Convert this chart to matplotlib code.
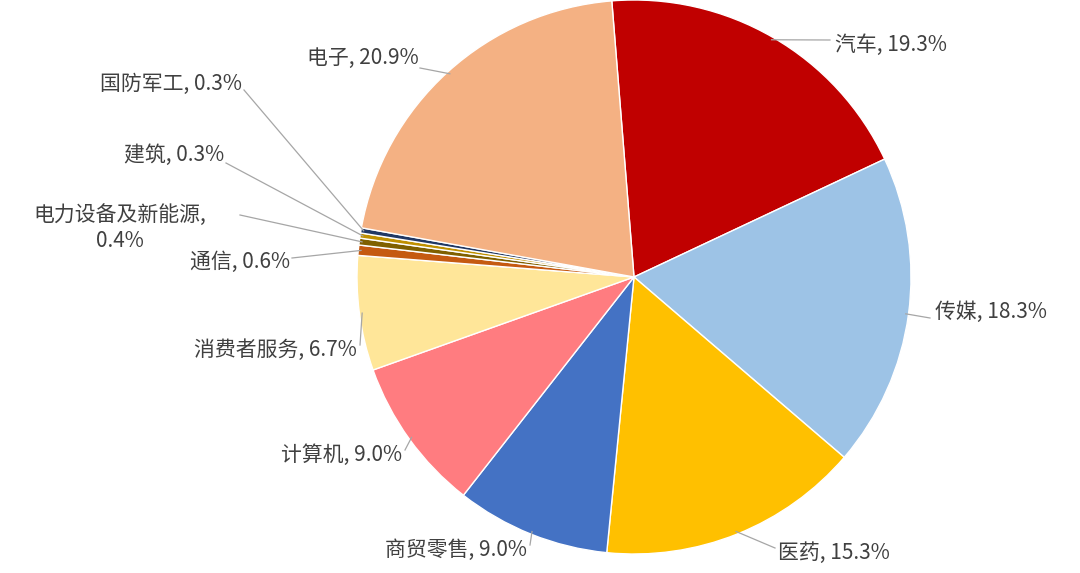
import matplotlib
matplotlib.use("Agg")
import matplotlib.pyplot as plt
import numpy as np

plt.rcParams['font.family'] = ['Noto Sans CJK SC', 'DejaVu Sans']

categories = ["汽车", "传媒", "医药", "商贸零售", "计算机", "消费者服务", "通信",
              "电力设备及新能源", "建筑", "国防军工", "电子"]
values = [19.3, 18.3, 15.3, 9.0, 9.0, 6.7, 0.6, 0.4, 0.3, 0.3, 20.9]
colors = ["#C00000", "#9DC3E6", "#FFC000", "#4472C4", "#FF7C80", "#FFE699",
          "#C55A11", "#7F6000", "#BF9000", "#203864", "#F4B183"]
label_texts = ["汽车, 19.3%", "传媒, 18.3%", "医药, 15.3%", "商贸零售, 9.0%", "计算机, 9.0%",
               "消费者服务, 6.7%", "通信, 0.6%", "电力设备及新能源,\n0.4%", "建筑, 0.3%",
               "国防军工, 0.3%", "电子, 20.9%"]
# label anchor pixels (x, y, ha)
label_pos = [(835, 45, 'left'), (935, 312, 'left'), (778, 553, 'left'), (527, 550, 'right'),
             (402, 455, 'right'), (357, 350, 'right'), (290, 262, 'right'), (120, 228, 'center'),
             (224, 155, 'right'), (242, 84, 'right'), (419, 58, 'right')]
line_start = [(830, 40), (930, 318), (775, 548), (530, 545), (405, 450), (360, 345),
              (292, 258), (240, 215), (226, 163), (244, 90), (420, 68)]

W, H = 1080, 573
cx, cy, R = 634, 277, 277
fig = plt.figure(figsize=(W/100, H/100), dpi=100)
ax = fig.add_axes([(cx-R)/W, (H-cy-R)/H, 2*R/W, 2*R/H])
start = 94.6
wedges, _ = ax.pie(values, colors=colors, startangle=start, counterclock=False, radius=1,
                   wedgeprops=dict(edgecolor='white', linewidth=1))
ax.set_xlim(-1, 1); ax.set_ylim(-1, 1); ax.set_aspect('equal'); ax.axis('off')

def p2d(px, py):
    return (px-cx)/R, (cy-py)/R

total = sum(values)
cum = 0
for i, v in enumerate(values):
    mid = np.deg2rad(start - (cum + v/2)/total*360)
    cum += v
    ex, ey = np.cos(mid)*0.99, np.sin(mid)*0.99
    sx, sy = p2d(*line_start[i])
    ax.plot([sx, ex], [sy, ey], color='#A6A6A6', lw=0.9, clip_on=False)
    tx, ty = p2d(label_pos[i][0], label_pos[i][1])
    ax.text(tx, ty, label_texts[i], ha=label_pos[i][2], va='center', fontsize=15,
            color='#404040', multialignment='center', clip_on=False)

fig.savefig("out.png", dpi=100)
